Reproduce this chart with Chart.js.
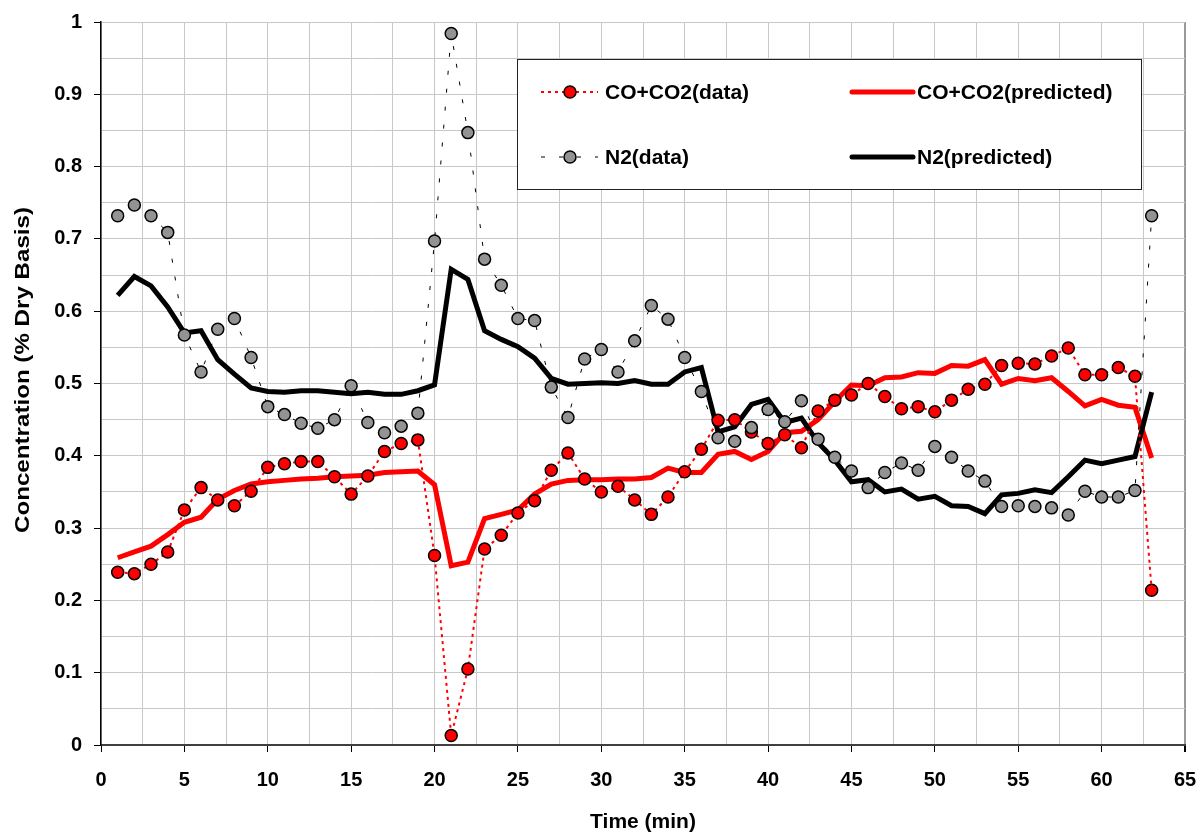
<!DOCTYPE html>
<html>
<head>
<meta charset="utf-8">
<title>Concentration vs Time</title>
<script src="https://cdn.jsdelivr.net/npm/chart.js@4.4.1/dist/chart.umd.min.js"></script>
<style>
    html, body { margin: 0; padding: 0; background: #fff; }
    #wrap { width: 1201px; height: 833px; }
</style>
</head>
<body>
<div id="wrap"><canvas id="grafico" width="1201" height="833"></canvas></div>
<script>
// Tempo (min)
const tempo = [1, 2, 3, 4, 5, 6, 7, 8, 9, 10, 11, 12, 13, 14, 15, 16, 17, 18, 19, 20,
    21, 22, 23, 24, 25, 26, 27, 28, 29, 30, 31, 32, 33, 34, 35, 36, 37, 38, 39, 40,
    41, 42, 43, 44, 45, 46, 47, 48, 49, 50, 51, 52, 53, 54, 55, 56, 57, 58, 59, 60,
    61, 62, 63];

const coDados = [0.239, 0.237, 0.250, 0.267, 0.325, 0.356, 0.339, 0.331, 0.351, 0.384,
    0.389, 0.392, 0.392, 0.371, 0.347, 0.372, 0.406, 0.417, 0.422, 0.262,
    0.013, 0.105, 0.271, 0.290, 0.321, 0.338, 0.380, 0.404, 0.368, 0.350,
    0.358, 0.339, 0.319, 0.343, 0.378, 0.409, 0.449, 0.450, 0.433, 0.417,
    0.429, 0.411, 0.462, 0.477, 0.484, 0.500, 0.482, 0.465, 0.468, 0.461,
    0.477, 0.492, 0.499, 0.525, 0.528, 0.527, 0.538, 0.549, 0.512, 0.512,
    0.522, 0.510, 0.214];

const coPrevisto = [0.259, 0.267, 0.275, 0.291, 0.308, 0.315, 0.340, 0.352, 0.361, 0.364,
    0.366, 0.368, 0.369, 0.371, 0.372, 0.373, 0.377, 0.378, 0.379, 0.360,
    0.248, 0.253, 0.313, 0.319, 0.325, 0.347, 0.361, 0.366, 0.367, 0.367,
    0.368, 0.368, 0.370, 0.383, 0.377, 0.377, 0.402, 0.406, 0.395, 0.406,
    0.432, 0.434, 0.450, 0.475, 0.498, 0.497, 0.508, 0.509, 0.515, 0.514,
    0.525, 0.524, 0.533, 0.499, 0.507, 0.504, 0.508, 0.489, 0.469, 0.478,
    0.470, 0.467, 0.397];

const n2Dados = [0.732, 0.747, 0.732, 0.709, 0.567, 0.516, 0.575, 0.590, 0.536, 0.468,
    0.457, 0.445, 0.438, 0.450, 0.497, 0.446, 0.432, 0.441, 0.459, 0.697,
    0.984, 0.847, 0.672, 0.636, 0.590, 0.587, 0.495, 0.453, 0.534, 0.547,
    0.516, 0.559, 0.608, 0.589, 0.536, 0.489, 0.425, 0.420, 0.439, 0.464,
    0.447, 0.476, 0.423, 0.398, 0.379, 0.356, 0.377, 0.390, 0.380, 0.413,
    0.398, 0.379, 0.365, 0.330, 0.331, 0.330, 0.328, 0.318, 0.351, 0.343,
    0.343, 0.352, 0.732];

const n2Previsto = [0.622, 0.648, 0.635, 0.606, 0.570, 0.573, 0.533, 0.513, 0.494, 0.489,
    0.488, 0.490, 0.490, 0.488, 0.486, 0.488, 0.485, 0.485, 0.490, 0.498,
    0.658, 0.644, 0.573, 0.561, 0.551, 0.535, 0.507, 0.499, 0.500, 0.501,
    0.500, 0.504, 0.499, 0.499, 0.516, 0.522, 0.433, 0.440, 0.471, 0.478,
    0.446, 0.452, 0.418, 0.394, 0.364, 0.367, 0.350, 0.354, 0.340, 0.344,
    0.331, 0.330, 0.320, 0.346, 0.348, 0.353, 0.349, 0.371, 0.394, 0.389,
    0.394, 0.399, 0.488];

const nomes = ['CO+CO2(data)', 'N2(data)', 'CO+CO2(predicted)', 'N2(predicted)'];
const tituloX = 'Time (min)';
const tituloY = 'Concentration (% Dry Basis)';

const fonte = '"Liberation Sans", Arial, sans-serif';
const cinza = '#939393';

function pontos(valores) {
    return tempo.map((t, i) => ({ x: t, y: valores[i] }));
}

// Legenda desenhada dentro da area do grafico
const legendaPlugin = {
    id: 'legendaCaixa',
    afterDraw(chart) {
        const ctx = chart.ctx;
        const sets = chart.data.datasets;
        ctx.save();
        ctx.fillStyle = '#fff';
        ctx.fillRect(517, 59, 625, 131);
        ctx.strokeStyle = '#222';
        ctx.lineWidth = 1;
        ctx.strokeRect(517.5, 59.5, 624, 130);

        const linhas = [
            { ds: sets[0], x: 541, y: 92 },
            { ds: sets[1], x: 541, y: 157 },
            { ds: sets[2], x: 852, y: 92 },
            { ds: sets[3], x: 852, y: 157 }
        ];
        linhas.forEach(item => {
            const ds = item.ds;
            ctx.beginPath();
            ctx.strokeStyle = ds.borderColor;
            ctx.lineWidth = ds.borderWidth;
            ctx.setLineDash(ds.borderDash || []);
            ctx.lineCap = ds.pointRadius ? 'butt' : 'round';
            const fim = ds.pointRadius ? item.x + 57 : item.x + 61;
            ctx.moveTo(item.x, item.y);
            ctx.lineTo(fim, item.y);
            ctx.stroke();
            ctx.setLineDash([]);
            if (ds.pointRadius) {
                ctx.beginPath();
                ctx.arc(item.x + 29, item.y, ds.pointRadius, 0, Math.PI * 2);
                ctx.fillStyle = ds.pointBackgroundColor;
                ctx.fill();
                ctx.lineWidth = ds.pointBorderWidth;
                ctx.strokeStyle = '#000';
                ctx.stroke();
            }
            ctx.fillStyle = '#000';
            ctx.font = 'bold 21px ' + fonte;
            ctx.textAlign = 'left';
            ctx.textBaseline = 'middle';
            ctx.fillText(ds.label, fim + (ds.pointRadius ? 7 : 4), item.y + 1);
        });

        // titulos dos eixos
        const area = chart.chartArea;
        ctx.font = 'bold 21px ' + fonte;
        ctx.textAlign = 'center';
        ctx.textBaseline = 'middle';
        ctx.fillText(tituloX, (area.left + area.right) / 2, 822);
        ctx.translate(23, 370);
        ctx.rotate(-Math.PI / 2);
        ctx.scale(1.15, 1);
        ctx.fillText(tituloY, 0, 0);
        ctx.restore();
    }
};

function criaGrafico() {
    const canvas = document.getElementById('grafico');
    new Chart(canvas, {
        type: 'line',
        data: {
            datasets: [
                {
                    label: nomes[0],
                    data: pontos(coDados),
                    borderColor: '#ff0000',
                    borderWidth: 2,
                    borderDash: [3, 4],
                    pointRadius: 6,
                    pointBackgroundColor: '#ff0000',
                    pointBorderColor: '#000',
                    pointBorderWidth: 1.5,
                    order: 1
                },
                {
                    label: nomes[1],
                    data: pontos(n2Dados),
                    borderColor: '#000',
                    borderWidth: 1,
                    borderDash: [4, 14],
                    pointRadius: 6,
                    pointBackgroundColor: cinza,
                    pointBorderColor: '#000',
                    pointBorderWidth: 1.5,
                    order: 0
                },
                {
                    label: nomes[2],
                    data: pontos(coPrevisto),
                    borderColor: '#ff0000',
                    borderWidth: 5,
                    pointRadius: 0,
                    order: 3
                },
                {
                    label: nomes[3],
                    data: pontos(n2Previsto),
                    borderColor: '#000',
                    borderWidth: 5,
                    pointRadius: 0,
                    order: 2
                }
            ]
        },
        options: {
            responsive: false,
            animation: false,
            layout: { padding: { top: 22, right: 16, left: 0, bottom: 0 } },
            plugins: {
                legend: { display: false },
                tooltip: { enabled: false }
            },
            elements: { line: { tension: 0 } },
            scales: {
                x: {
                    type: 'linear',
                    min: 0,
                    max: 65,
                    afterFit(scale) {
                        scale.height = 88;
                        scale.paddingLeft = 0;
                        scale.paddingRight = 0;
                    },
                    border: { color: '#404040', width: 2 },
                    grid: {
                        color: c => c.tick && c.tick.value === 65 ? '#9a9a9a' : '#c8c8c8',
                        lineWidth: c => c.tick && c.tick.value === 65 ? 2 : 1,
                        tickLength: 7,
                        tickColor: c => c.tick && c.tick.value % 5 === 0 ? '#000' : 'rgba(0,0,0,0)'
                    },
                    ticks: {
                        stepSize: 2.5,
                        autoSkip: false,
                        maxRotation: 0,
                        padding: 16,
                        color: '#000',
                        font: { family: fonte, size: 20, weight: 'bold' },
                        callback: v => v % 5 === 0 ? String(v) : ''
                    }
                },
                y: {
                    min: 0,
                    max: 1,
                    afterFit(scale) {
                        scale.width = 101;
                        scale.paddingTop = 0;
                        scale.paddingBottom = 0;
                    },
                    border: { color: '#000', width: 1.5 },
                    grid: {
                        color: '#c8c8c8',
                        lineWidth: 1,
                        tickLength: 7,
                        tickColor: c => c.tick && Math.round(c.tick.value * 100) % 10 === 0 ? '#000' : 'rgba(0,0,0,0)'
                    },
                    ticks: {
                        stepSize: 0.05,
                        autoSkip: false,
                        padding: 12,
                        color: '#000',
                        font: { family: fonte, size: 20, weight: 'bold' },
                        callback: v => Math.round(v * 100) % 10 === 0 ? String(Math.round(v * 10) / 10) : ''
                    }
                }
            }
        },
        plugins: [legendaPlugin]
    });
}

criaGrafico();
</script>
</body>
</html>
